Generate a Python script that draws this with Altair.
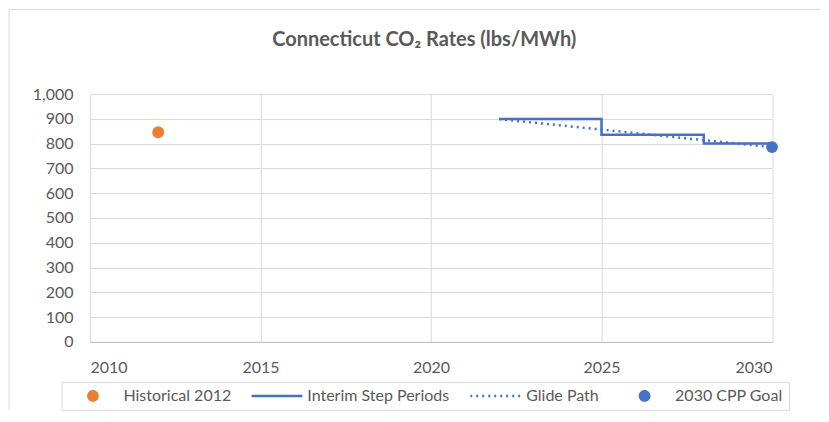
import altair as alt
import pandas as pd

# ---- data ----
title_text = "Connecticut CO₂ Rates (lbs/MWh)"
series = ["Historical 2012", "Interim Step Periods", "Glide Path", "2030 CPP Goal"]
series_colors = ["#ED7D31", "#4472C4", "#4472C4", "#4472C4"]

hist_year = [2012]
hist_rate = [846]

step_year = [2022, 2025, 2028, 2030]
step_rate = [899, 836, 801, 801]

glide_year = [2022, 2030]
glide_rate = [899, 786]

goal_year = [2030]
goal_rate = [786]

x_ticks = [2010, 2015, 2020, 2025, 2030]
y_ticks = [0, 100, 200, 300, 400, 500, 600, 700, 800, 900, 1000]

points_df = pd.DataFrame({
    "year": hist_year + goal_year,
    "rate": hist_rate + goal_rate,
    "series": [series[0]] * len(hist_year) + [series[3]] * len(goal_year),
})
step_df = pd.DataFrame({"year": step_year, "rate": step_rate, "series": series[1]})
glide_df = pd.DataFrame({"year": glide_year, "rate": glide_rate, "series": series[2]})

TEXT = "#595959"
GRID = "#d9d9d9"
FONT = "Lato"

circ = "(datum.value === 'Historical 2012' || datum.value === '2030 CPP Goal')"
circle_path = "M-1,0M1,0M0.23,0A0.23,0.23,0,1,1,-0.23,0A0.23,0.23,0,1,1,0.23,0Z"

legend = alt.Legend(
    title=None,
    orient="none",
    legendX=-28.5,
    legendY=288,
    direction="horizontal",
    columns=4,
    symbolSize=2601,
    clipHeight=16,
    symbolOffset=17.5,
    labelOffset=22.5,
    columnPadding=20,
    padding=6,
    strokeColor=GRID,
    labelFont=FONT,
    labelFontSize=16,
    labelColor=TEXT,
    labelLimit=300,
    symbolOpacity=1,
    symbolType={"expr": f"{circ} ? '{circle_path}' : 'stroke'"},
    symbolFillColor={"expr": "datum.value === 'Historical 2012' ? '#ED7D31' : (datum.value === '2030 CPP Goal' ? '#4472C4' : 'transparent')"},
    symbolStrokeColor={"expr": f"{circ} ? 'transparent' : '#4472C4'"},
    symbolStrokeWidth={"expr": f"{circ} ? 0 : 2.5"},
    symbolDash={"expr": "datum.value === 'Glide Path' ? [2, 4] : [100, 0]"},
)

color = alt.Color("series:N", scale=alt.Scale(domain=series, range=series_colors), legend=legend)

x_enc = alt.X(
    "year:Q",
    scale=alt.Scale(domain=[2010, 2030], nice=False, zero=False),
    axis=alt.Axis(values=x_ticks, format="d", title=None, grid=True, gridColor=GRID,
                  ticks=False, domain=True, domainColor="#bfbfbf", labelPadding=18,
                  labelOverlap=False),
)
y_enc = alt.Y(
    "rate:Q",
    scale=alt.Scale(domain=[0, 1000], nice=False),
    axis=alt.Axis(values=y_ticks, format=",d", title=None, grid=True, gridColor=GRID,
                  ticks=False, domain=False, labelPadding=17, labelOverlap=False),
)

step_line = alt.Chart(step_df).mark_line(interpolate="step-after", strokeWidth=2.5).encode(
    x=x_enc, y=y_enc, color=color
)
glide_line = alt.Chart(glide_df).mark_line(strokeWidth=2.5, strokeDash=[2, 4]).encode(
    x=x_enc, y=y_enc, color=color
)
pts = alt.Chart(points_df).mark_point(filled=True, size=140, opacity=1, shape="circle").encode(
    x=x_enc, y=y_enc, color=color
)

frame_df = pd.DataFrame({"a": [0]})
top_border = alt.Chart(frame_df).mark_rule(color=GRID, strokeWidth=1).encode(
    x=alt.value(-81), x2=alt.value(731), y=alt.value(-84.5)
)
left_border = alt.Chart(frame_df).mark_rule(color=GRID, strokeWidth=1).encode(
    x=alt.value(-81), y=alt.value(-84.5), y2=alt.value(316)
)
title_mark = alt.Chart(frame_df).mark_text(
    font=FONT, fontSize=20, fontWeight="bold", color=TEXT, align="center", baseline="alphabetic"
).encode(
    x=alt.value(334.5), y=alt.value(-48), text=alt.value(title_text)
)

chart = alt.layer(
    top_border, left_border, title_mark, step_line, glide_line, pts
).properties(
    width=682.5,
    height=248,
    padding={"left": 0, "top": 1, "right": 0, "bottom": 0},
    background="white",
).configure_view(
    stroke=None
).configure_axis(
    labelFont=FONT, labelFontSize=16, labelColor=TEXT
)

chart.save("out.html", embed_options={"renderer": "svg", "actions": False})
